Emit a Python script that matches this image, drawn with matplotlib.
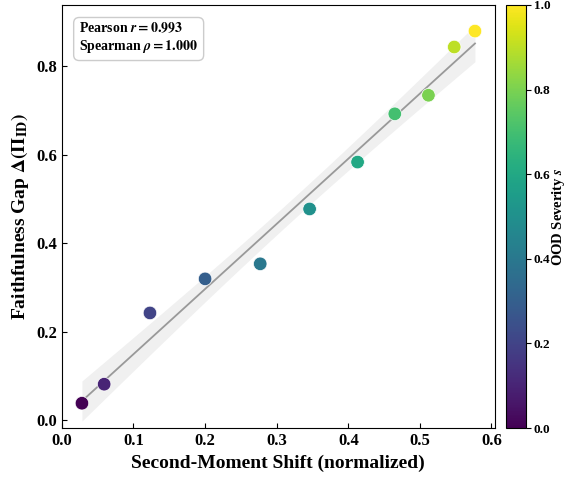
import numpy as np
import matplotlib
matplotlib.use("Agg")
import matplotlib.pyplot as plt

plt.rcParams['font.family'] = 'Liberation Serif'
plt.rcParams['font.weight'] = 'bold'
plt.rcParams['mathtext.fontset'] = 'stix'

# data
shift = [0.028, 0.059, 0.123, 0.200, 0.277, 0.346, 0.413, 0.465, 0.512, 0.548, 0.577]
gap = [0.038, 0.081, 0.242, 0.319, 0.353, 0.477, 0.583, 0.692, 0.734, 0.843, 0.879]
severity = [0.0, 0.1, 0.2, 0.3, 0.4, 0.5, 0.6, 0.7, 0.8, 0.9, 1.0]

x = np.array(shift)
y = np.array(gap)

fig = plt.figure(figsize=(5.68, 4.78), dpi=100)
ax = fig.add_axes([0.109, 0.1046, 0.762, 0.885])
cax = fig.add_axes([0.891, 0.1046, 0.035, 0.885])

# linear fit with 95% confidence band
slope, intercept = np.polyfit(x, y, 1)
xs = np.linspace(x.min(), x.max(), 100)
ys = slope * xs + intercept
n = len(x)
resid = y - (slope * x + intercept)
s_err = np.sqrt(np.sum(resid ** 2) / (n - 2))
t = 2.262
ci = t * s_err * np.sqrt(1 / n + (xs - x.mean()) ** 2 / np.sum((x - x.mean()) ** 2))
ax.fill_between(xs, ys - ci, ys + ci, color='#bbbbbb', alpha=0.22, lw=0)
ax.plot(xs, ys, color='#999999', lw=1.3)

sc = ax.scatter(x, y, c=severity, cmap='viridis', vmin=0, vmax=1, s=95,
                edgecolors='white', linewidths=0.5, zorder=3)

ax.set_xlim(0, 0.6046)
ax.set_ylim(-0.018, 0.938)
ax.set_xticks([0.0, 0.1, 0.2, 0.3, 0.4, 0.5, 0.6])
ax.set_yticks([0.0, 0.2, 0.4, 0.6, 0.8])
ax.tick_params(direction='in', labelsize=12)
for lab in ax.get_xticklabels() + ax.get_yticklabels():
    lab.set_fontweight('bold')

ax.set_xlabel('Second-Moment Shift (normalized)', fontsize=14, fontweight='bold')
ax.set_ylabel(r'Faithfulness Gap $\mathbf{\Delta(\Pi_{ID})}$', fontsize=14, fontweight='bold')

ax.text(0.04, 0.962, 'Pearson $r = 0.993$\nSpearman $\\rho = 1.000$',
        transform=ax.transAxes, va='top', ha='left', fontsize=10, fontweight='bold',
        bbox=dict(boxstyle='round,pad=0.4', facecolor='white', edgecolor='#cccccc'))

cb = fig.colorbar(sc, cax=cax)
cb.set_label('OOD Severity $s$', fontsize=10.5, fontweight='bold')
cb.ax.yaxis.label.set_verticalalignment('center')
cb.ax.yaxis.set_label_coords(2.65, 0.5)
cb.set_ticks([0.0, 0.2, 0.4, 0.6, 0.8, 1.0])
cb.ax.tick_params(labelsize=9.5, pad=2)
for lab in cb.ax.get_yticklabels():
    lab.set_fontweight('bold')

fig.savefig('out.png', dpi=100)
